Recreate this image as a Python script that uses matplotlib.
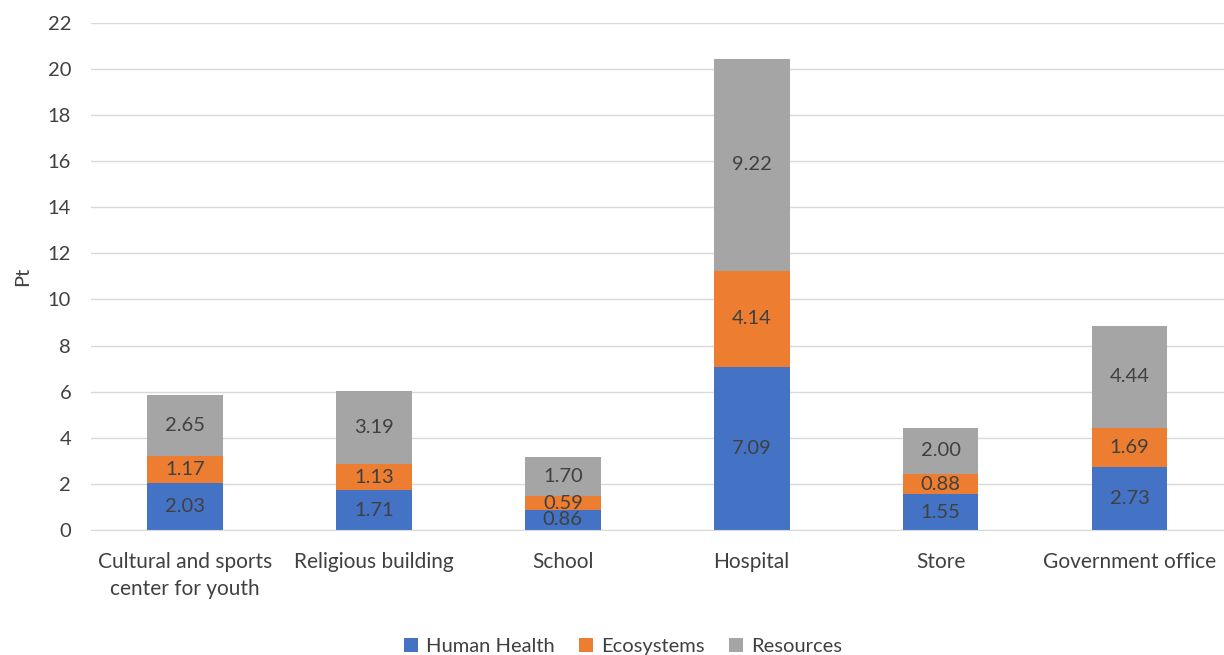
import matplotlib.pyplot as plt
import numpy as np

plt.rcParams['font.family'] = ['Lato', 'DejaVu Sans']

# data
categories = ["Cultural and sports\ncenter for youth", "Religious building", "School",
              "Hospital", "Store", "Government office"]
human_health = [2.03, 1.71, 0.86, 7.09, 1.55, 2.73]
ecosystems = [1.17, 1.13, 0.59, 4.14, 0.88, 1.69]
resources = [2.65, 3.19, 1.70, 9.22, 2.00, 4.44]

series = [("Human Health", human_health, "#4472C4"),
          ("Ecosystems", ecosystems, "#ED7D31"),
          ("Resources", resources, "#A5A5A5")]

fig = plt.figure(figsize=(12.24, 6.55), dpi=100)
ax = fig.add_axes([0.074, 0.191, 0.926, 0.774])

x = np.arange(len(categories))
bottom = np.zeros(len(categories))
for name, vals, col in series:
    vals = np.array(vals)
    bars = ax.bar(x, vals, 0.4, bottom=bottom, color=col, label=name, zorder=2)
    for xi, b, v in zip(x, bottom, vals):
        ax.text(xi, b + v / 2, f"{v:.2f}", ha="center", va="center",
                fontsize=14.5, color="#404040", zorder=3)
    bottom = bottom + vals

ax.set_xlim(-0.5, len(categories) - 0.5)
ax.set_ylim(0, 22)
ax.set_yticks(range(0, 23, 2))
ax.set_xticks(x)
ax.set_xticklabels(categories, fontsize=15, color="#404040", linespacing=1.45)
ax.tick_params(axis="y", labelsize=14.5, labelcolor="#404040", length=0, pad=14)
ax.tick_params(axis="x", length=0, pad=16)
ax.grid(axis="y", color="#D9D9D9", linewidth=1, zorder=0)
for s in ["top", "right", "left"]:
    ax.spines[s].set_visible(False)
ax.spines["bottom"].set_color("#D9D9D9")
ax.set_ylabel("Pt", fontsize=14.5, color="#404040", labelpad=12)

ax.legend(loc="lower center", bbox_to_anchor=(0.47, -0.275), ncol=3, frameon=False,
          fontsize=14.5, labelcolor="#404040", handlelength=0.7, handleheight=0.7,
          columnspacing=1.2, handletextpad=0.4, borderpad=0.2)

fig.savefig("out.png", dpi=100)
